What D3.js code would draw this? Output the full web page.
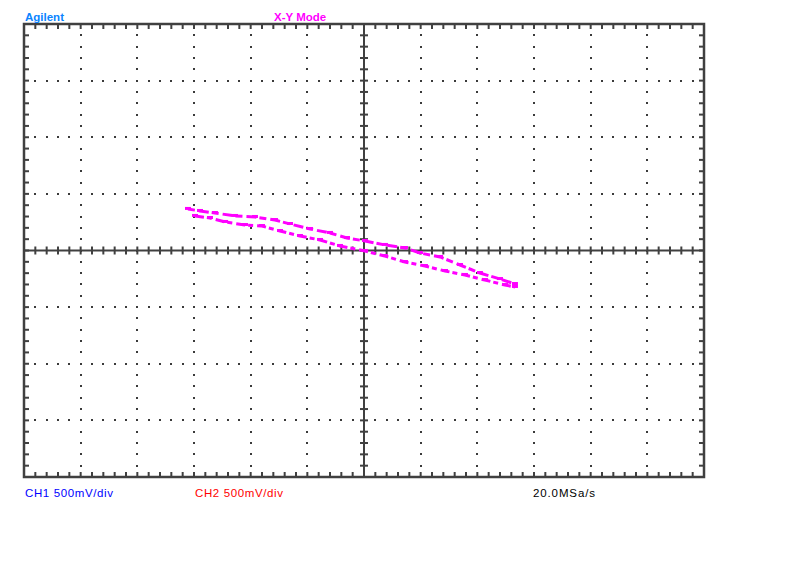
<!DOCTYPE html>
<html>
<head>
<meta charset="utf-8">
<script src="https://cdn.jsdelivr.net/npm/d3@7"></script>
<style>
  html, body { margin: 0; padding: 0; background: #fff; }
  svg { display: block; }
  text { font-family: "Liberation Sans", Arial, sans-serif; }
</style>
</head>
<body>
<svg id="chart" width="792" height="566"></svg>
<script>
// ---- Data (volts) ----
const upperX = [-1.553, -1.447, -1.315, -1.138, -0.962, -0.785, -0.653, -0.476, -0.300, -0.150, 0.009, 0.185, 0.362, 0.494, 0.671, 0.847, 1.023, 1.200, 1.332];
const upperY = [0.367, 0.349, 0.331, 0.305, 0.296, 0.269, 0.234, 0.190, 0.155, 0.110, 0.084, 0.049, 0.022, -0.022, -0.057, -0.128, -0.199, -0.252, -0.296];
const lowerX = [-1.491, -1.359, -1.226, -1.050, -0.900, -0.741, -0.565, -0.388, -0.212, 0.009, 0.185, 0.362, 0.538, 0.715, 0.891, 1.068, 1.244, 1.332];
const lowerY = [0.305, 0.287, 0.252, 0.225, 0.216, 0.172, 0.128, 0.093, 0.040, -0.004, -0.049, -0.102, -0.137, -0.181, -0.216, -0.261, -0.305, -0.322];

const xDomain = [-3, 3];   // 12 div x 500 mV
const yDomain = [-2, 2];   // 8 div x 500 mV
const divStep = 0.5;
const minorStep = 0.1;

const titleLeft = "Agilent";
const titleMode = "X-Y Mode";
const ch1Label = "CH1 500mV/div";
const ch2Label = "CH2 500mV/div";
const rateLabel = "20.0MSa/s";

// ---- Layout ----
const L = 24, R = 704, T = 24, B = 477;
const svg = d3.select("#chart");
const x = d3.scaleLinear().domain(xDomain).range([L, R]);
const y = d3.scaleLinear().domain(yDomain).range([B, T]);
const frameColor = "#404040";

const majorX = d3.range(xDomain[0], xDomain[1] + 1e-9, divStep);
const majorY = d3.range(yDomain[0], yDomain[1] + 1e-9, divStep);
const minorX = d3.range(xDomain[0], xDomain[1] + 1e-9, minorStep).map(v => +v.toFixed(4));
const minorY = d3.range(yDomain[0], yDomain[1] + 1e-9, minorStep).map(v => +v.toFixed(4));

// grid dots
const g = svg.append("g");
const dots = [];
majorX.slice(1, -1).forEach(mx => { if (Math.abs(mx) > 1e-9) minorY.slice(1, -1).forEach(my => dots.push([mx, my])); });
majorY.slice(1, -1).forEach(my => { if (Math.abs(my) > 1e-9) minorX.slice(1, -1).forEach(mx => dots.push([mx, my])); });
g.selectAll("rect.dot").data(dots).join("rect")
  .attr("class", "dot")
  .attr("x", d => Math.round(x(d[0])) - 1)
  .attr("y", d => Math.round(y(d[1])) - 1)
  .attr("width", 2).attr("height", 2)
  .attr("fill", "#3a3a3a");

// center axes
const cx = x(0), cy = y(0);
g.append("line").attr("x1", L).attr("x2", R).attr("y1", cy).attr("y2", cy)
  .attr("stroke", frameColor).attr("stroke-width", 2);
g.append("line").attr("x1", cx).attr("x2", cx).attr("y1", T).attr("y2", B)
  .attr("stroke", frameColor).attr("stroke-width", 2);
g.selectAll("line.hx").data(minorX.slice(1, -1)).join("line")
  .attr("x1", d => x(d)).attr("x2", d => x(d)).attr("y1", cy - 4).attr("y2", cy + 4)
  .attr("stroke", frameColor).attr("stroke-width", 2);
g.selectAll("line.vy").data(minorY.slice(1, -1)).join("line")
  .attr("y1", d => y(d)).attr("y2", d => y(d)).attr("x1", cx - 4).attr("x2", cx + 4)
  .attr("stroke", frameColor).attr("stroke-width", 2);

// border ticks
g.selectAll("line.tt").data(minorX.slice(1, -1)).join("line")
  .attr("x1", d => x(d)).attr("x2", d => x(d)).attr("y1", T).attr("y2", T + 5)
  .attr("stroke", frameColor).attr("stroke-width", 2);
g.selectAll("line.bt").data(minorX.slice(1, -1)).join("line")
  .attr("x1", d => x(d)).attr("x2", d => x(d)).attr("y1", B).attr("y2", B - 5)
  .attr("stroke", frameColor).attr("stroke-width", 2);
g.selectAll("line.lt").data(minorY.slice(1, -1)).join("line")
  .attr("y1", d => y(d)).attr("y2", d => y(d)).attr("x1", L).attr("x2", L + 5)
  .attr("stroke", frameColor).attr("stroke-width", 2);
g.selectAll("line.rt").data(minorY.slice(1, -1)).join("line")
  .attr("y1", d => y(d)).attr("y2", d => y(d)).attr("x1", R).attr("x2", R - 5)
  .attr("stroke", frameColor).attr("stroke-width", 2);

// frame
g.append("rect").attr("x", L).attr("y", T).attr("width", R - L).attr("height", B - T)
  .attr("fill", "none").attr("stroke", frameColor).attr("stroke-width", 2.5);

// trace
const line = d3.line().x(d => x(d[0])).y(d => y(d[1]));
const upper = upperX.map((v, i) => [v, upperY[i]]);
const lower = lowerX.map((v, i) => [v, lowerY[i]]);
[upper, lower].forEach((pts, k) => {
  svg.append("path").datum(pts).attr("d", line)
    .attr("fill", "none").attr("stroke", "#ff00ff").attr("stroke-width", 3)
    .attr("stroke-dasharray", k ? "9,3,5,4" : "7,4,10,3");
});
svg.selectAll("rect.pt").data(upper.concat(lower)).join("rect")
  .attr("class", "pt")
  .attr("x", d => x(d[0]) - 3).attr("y", d => y(d[1]) - 2)
  .attr("width", 6).attr("height", 3).attr("fill", "#ff00ff");

// texts
svg.append("text").attr("x", 25).attr("y", 21).text(titleLeft)
  .attr("fill", "#0a84ff").attr("font-size", 11.5).attr("font-weight", "bold");
svg.append("text").attr("x", 274).attr("y", 21).text(titleMode)
  .attr("fill", "#ff00ff").attr("font-size", 11.5).attr("font-weight", "bold");
svg.append("text").attr("x", 25).attr("y", 497).text(ch1Label)
  .attr("fill", "#0000ff").attr("font-size", 11.5).attr("textLength", 88).attr("lengthAdjust", "spacing");
svg.append("text").attr("x", 195).attr("y", 497).text(ch2Label)
  .attr("fill", "#ff0000").attr("font-size", 11.5).attr("textLength", 88).attr("lengthAdjust", "spacing");
svg.append("text").attr("x", 533).attr("y", 497).text(rateLabel)
  .attr("fill", "#000").attr("font-size", 11.5).attr("textLength", 62).attr("lengthAdjust", "spacing");
</script>
</body>
</html>
